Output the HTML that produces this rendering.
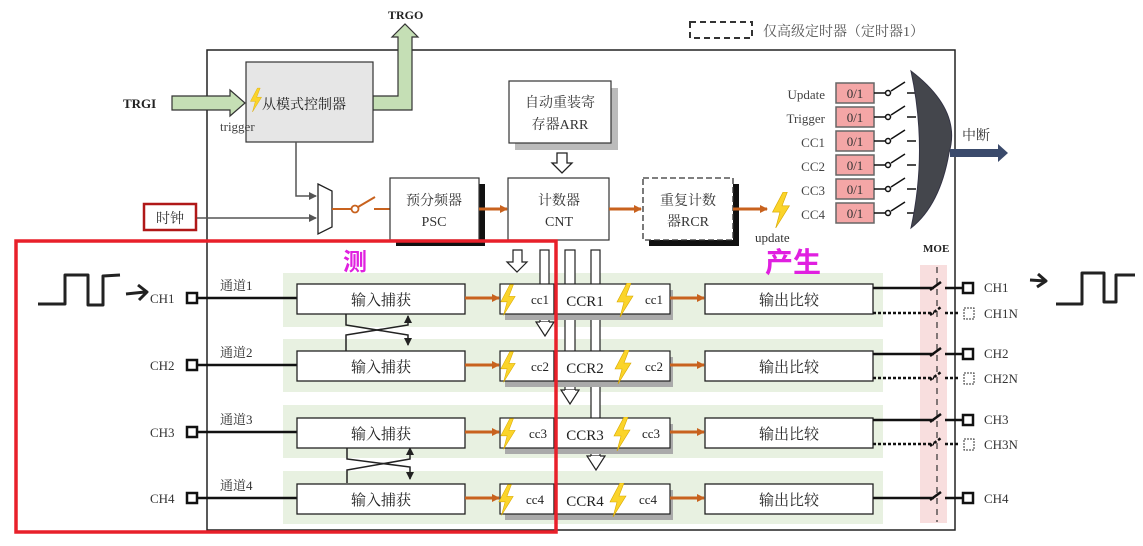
<!DOCTYPE html>
<html><head><meta charset="utf-8"><style>
html,body{margin:0;padding:0;background:#fff}
svg{display:block}
text{font-family:"Liberation Serif","Noto Serif CJK SC","Noto Sans CJK SC",serif}
</style></head><body>
<svg width="1143" height="546" viewBox="0 0 1143 546" xmlns="http://www.w3.org/2000/svg" fill="#222">
<defs>
<marker id="oa" markerWidth="8" markerHeight="8" refX="7" refY="4" orient="auto" markerUnits="userSpaceOnUse"><path d="M0,0 L8,4 L0,8z" fill="#c8621e"/></marker>
<marker id="ga" markerWidth="8" markerHeight="8" refX="7" refY="4" orient="auto" markerUnits="userSpaceOnUse"><path d="M0,0 L8,4 L0,8z" fill="#555"/></marker>
<marker id="ka" markerWidth="8" markerHeight="8" refX="7" refY="4" orient="auto" markerUnits="userSpaceOnUse"><path d="M0,0 L8,4 L0,8z" fill="#222"/></marker>
<symbol id="bolt" viewBox="0 0 20 34"><path d="M12,0 L2,19 L9,19 L5,34 L18,13 L11,13 L16,0z" fill="#fbd42a" stroke="#d8a800" stroke-width="0.6"/></symbol>
</defs>

<rect x="690" y="22" width="62" height="16" fill="none" stroke="#333" stroke-width="2" stroke-dasharray="6,4"/>
<text x="763" y="36" font-size="14" fill="#555">仅高级定时器（定时器1）</text>

<rect x="207" y="50" width="748" height="480" fill="#fff" stroke="#222" stroke-width="1.5"/>

<rect x="283" y="273" width="600" height="54" fill="#e8f1e1"/>
<rect x="283" y="339" width="600" height="53" fill="#e8f1e1"/>
<rect x="283" y="405" width="600" height="53" fill="#e8f1e1"/>
<rect x="283" y="471" width="600" height="53" fill="#e8f1e1"/>
<rect x="920" y="265" width="27" height="258" fill="#f8dede"/>
<line x1="937" y1="267" x2="937" y2="522" stroke="#333" stroke-width="1.2" stroke-dasharray="6,5"/>

<text x="388" y="19" font-size="12" font-weight="bold">TRGO</text>
<path d="M373,96 L398,96 L398,37 L392,37 L405,24 L418,37 L412,37 L412,110 L373,110z" fill="#c5dfb5" stroke="#333" stroke-width="1.2"/>
<text x="123" y="108" font-size="13" font-weight="bold">TRGI</text>
<path d="M172,96 L230,96 L230,90 L245,103 L230,116 L230,110 L172,110z" fill="#c5dfb5" stroke="#333" stroke-width="1.2"/>

<rect x="246" y="62" width="127" height="80" fill="#e6e6e6" stroke="#333" stroke-width="1.2"/>
<use href="#bolt" x="249" y="86" width="14" height="28"/>
<text x="262" y="109" font-size="14">从模式控制器</text>
<text x="220" y="131" font-size="13" fill="#444">trigger</text>

<rect x="515" y="88" width="103" height="62" fill="#bbb"/>
<rect x="509" y="81" width="102" height="62" fill="#fff" stroke="#333" stroke-width="1.2"/>
<text x="560" y="107" font-size="14" text-anchor="middle" fill="#333">自动重装寄</text>
<text x="560" y="129" font-size="14" text-anchor="middle" fill="#333">存器ARR</text>
<path d="M557,153 L567,153 L567,163 L572,163 L562,173 L552,163 L557,163z" fill="#fff" stroke="#222" stroke-width="1.3"/>

<path d="M296,142 L296,196 L316,196" fill="none" stroke="#555" stroke-width="1.5" marker-end="url(#ga)"/>
<rect x="144" y="204" width="52" height="26" fill="#fff" stroke="#b01818" stroke-width="2.5"/>
<text x="170" y="223" font-size="14" text-anchor="middle" fill="#333">时钟</text>
<line x1="197" y1="218" x2="316" y2="218" stroke="#555" stroke-width="1.5" marker-end="url(#ga)"/>
<path d="M318,184 L332,191 L332,227 L318,234z" fill="#fff" stroke="#222" stroke-width="1.3"/>
<line x1="332" y1="209" x2="352" y2="209" stroke="#c8621e" stroke-width="2"/>
<circle cx="355" cy="209" r="3.5" fill="#fff" stroke="#c8621e" stroke-width="1.8"/>
<line x1="358" y1="207" x2="375" y2="197" stroke="#c8621e" stroke-width="2"/>
<line x1="374" y1="209" x2="390" y2="209" stroke="#c8621e" stroke-width="2"/>

<rect x="396" y="184" width="89" height="62" fill="#111"/>
<rect x="390" y="178" width="89" height="62" fill="#fff" stroke="#333" stroke-width="1.2"/>
<text x="434" y="205" font-size="14" text-anchor="middle" fill="#333">预分频器</text>
<text x="434" y="226" font-size="14" text-anchor="middle" fill="#333">PSC</text>
<line x1="479" y1="209" x2="507" y2="209" stroke="#c8621e" stroke-width="3" marker-end="url(#oa)"/>

<rect x="540" y="250" width="9" height="72" fill="#fff" stroke="#222" stroke-width="1.2"/>
<path d="M540,322 L536,322 L545,336 L554,322 L549,322" fill="#fff" stroke="#222" stroke-width="1.2"/>
<rect x="565" y="250" width="10" height="140" fill="#fff" stroke="#222" stroke-width="1.2"/>
<path d="M565,390 L561,390 L570,404 L579,390 L575,390" fill="#fff" stroke="#222" stroke-width="1.2"/>
<rect x="591" y="250" width="9" height="206" fill="#fff" stroke="#222" stroke-width="1.2"/>
<path d="M591,456 L587,456 L596,470 L605,456 L600,456" fill="#fff" stroke="#222" stroke-width="1.2"/>
<path d="M513,250 L522,250 L522,262 L527,262 L517,272 L507,262 L513,262z" fill="#fff" stroke="#222" stroke-width="1.2"/>

<rect x="508" y="178" width="101" height="62" fill="#fff" stroke="#333" stroke-width="1.2"/>
<text x="559" y="205" font-size="14" text-anchor="middle" fill="#333">计数器</text>
<text x="559" y="226" font-size="14" text-anchor="middle" fill="#333">CNT</text>
<line x1="609" y1="209" x2="641" y2="209" stroke="#c8621e" stroke-width="3" marker-end="url(#oa)"/>

<rect x="649" y="184" width="90" height="62" fill="#111"/>
<rect x="643" y="178" width="90" height="62" fill="#fff" stroke="#333" stroke-width="1.3" stroke-dasharray="6,3"/>
<text x="688" y="205" font-size="14" text-anchor="middle" fill="#333">重复计数</text>
<text x="688" y="226" font-size="14" text-anchor="middle" fill="#333">器RCR</text>
<line x1="733" y1="209" x2="767" y2="209" stroke="#c8621e" stroke-width="3" marker-end="url(#oa)"/>
<use href="#bolt" x="770" y="192" width="22" height="36"/>
<text x="755" y="242" font-size="13" fill="#333">update</text>

<g font-size="13" fill="#444" text-anchor="end">
<text x="825" y="99">Update</text><text x="825" y="123">Trigger</text><text x="825" y="147">CC1</text>
<text x="825" y="171">CC2</text><text x="825" y="195">CC3</text><text x="825" y="219">CC4</text>
</g>
<g>
<rect x="836" y="83" width="38" height="20" fill="#f4a6a6" stroke="#666" stroke-width="1.5"/>
<rect x="836" y="107" width="38" height="20" fill="#f4a6a6" stroke="#666" stroke-width="1.5"/>
<rect x="836" y="131" width="38" height="20" fill="#f4a6a6" stroke="#666" stroke-width="1.5"/>
<rect x="836" y="155" width="38" height="20" fill="#f4a6a6" stroke="#666" stroke-width="1.5"/>
<rect x="836" y="179" width="38" height="20" fill="#f4a6a6" stroke="#666" stroke-width="1.5"/>
<rect x="836" y="203" width="38" height="20" fill="#f4a6a6" stroke="#666" stroke-width="1.5"/>
</g>
<g font-size="13" fill="#333" text-anchor="middle">
<text x="855" y="98">0/1</text><text x="855" y="122">0/1</text><text x="855" y="146">0/1</text>
<text x="855" y="170">0/1</text><text x="855" y="194">0/1</text><text x="855" y="218">0/1</text>
</g>
<g stroke="#111" stroke-width="1.5" fill="#fff">
<path d="M874,93 H886 M891,91 L905,82 M907,93 H916" fill="none"/><circle cx="888" cy="93" r="2.5"/>
<path d="M874,117 H886 M891,115 L905,106 M907,117 H916" fill="none"/><circle cx="888" cy="117" r="2.5"/>
<path d="M874,141 H886 M891,139 L905,130 M907,141 H916" fill="none"/><circle cx="888" cy="141" r="2.5"/>
<path d="M874,165 H886 M891,163 L905,154 M907,165 H916" fill="none"/><circle cx="888" cy="165" r="2.5"/>
<path d="M874,189 H886 M891,187 L905,178 M907,189 H916" fill="none"/><circle cx="888" cy="189" r="2.5"/>
<path d="M874,213 H886 M891,211 L905,202 M907,213 H916" fill="none"/><circle cx="888" cy="213" r="2.5"/>
</g>
<path d="M911,71 Q962,110 949,153 Q940,205 911,228 Q928,150 911,71z" fill="#44464c" stroke="#334" stroke-width="1"/>
<path d="M950,149 L998,149 L998,144 L1008,153 L998,162 L998,157 L950,157z" fill="#3a4a6b"/>
<text x="962" y="140" font-size="14" fill="#333">中断</text>
<text x="923" y="252" font-size="11" font-weight="bold">MOE</text>

<g font-size="13" fill="#333">
<text x="150" y="303">CH1</text><text x="150" y="370">CH2</text><text x="150" y="437">CH3</text><text x="150" y="503">CH4</text>
<text x="220" y="290">通道1</text><text x="220" y="357">通道2</text><text x="220" y="424">通道3</text><text x="220" y="490">通道4</text>
</g>
<g stroke="#111" stroke-width="2.5" fill="#fff">
<rect x="187" y="293" width="10" height="10"/><rect x="187" y="360" width="10" height="10"/>
<rect x="187" y="427" width="10" height="10"/><rect x="187" y="493" width="10" height="10"/>
<line x1="197" y1="298" x2="297" y2="298"/><line x1="197" y1="365" x2="297" y2="365"/>
<line x1="197" y1="432" x2="297" y2="432"/><line x1="197" y1="498" x2="297" y2="498"/>
</g>

<g stroke="#222" stroke-width="1.5" fill="none">
<path d="M346,314 L346,325 L408,335 L408,345" marker-end="url(#ka)"/>
<path d="M346,351 L346,335 L408,325 L408,316" marker-end="url(#ka)"/>
<path d="M347,447 L347,459 L410,467 L410,479" marker-end="url(#ka)"/>
<path d="M347,483 L347,470 L410,459 L410,448" marker-end="url(#ka)"/>
</g>

<g font-size="15" fill="#222" text-anchor="middle">
<rect x="297" y="284" width="168" height="30" fill="#fff" stroke="#222" stroke-width="1.3"/><text x="381" y="305">输入捕获</text>
<line x1="465" y1="298" x2="499" y2="298" stroke="#c8621e" stroke-width="3" marker-end="url(#oa)"/>
<rect x="505" y="290" width="168" height="30" fill="#aaa"/>
<rect x="500" y="284" width="54" height="30" fill="#fff" stroke="#222" stroke-width="1.2"/>
<rect x="554" y="284" width="116" height="30" fill="#fff" stroke="#222" stroke-width="1.2"/>
<use href="#bolt" x="499" y="283" width="18" height="34"/><text x="540" y="304" font-size="13">cc1</text>
<text x="585" y="306">CCR1</text><use href="#bolt" x="615" y="283" width="20" height="34"/><text x="654" y="304" font-size="13">cc1</text>
<line x1="670" y1="298" x2="704" y2="298" stroke="#c8621e" stroke-width="3" marker-end="url(#oa)"/>
<rect x="705" y="284" width="168" height="30" fill="#fff" stroke="#222" stroke-width="1.3"/><text x="789" y="305">输出比较</text>

<rect x="297" y="351" width="168" height="30" fill="#fff" stroke="#222" stroke-width="1.3"/><text x="381" y="372">输入捕获</text>
<line x1="465" y1="365" x2="499" y2="365" stroke="#c8621e" stroke-width="3" marker-end="url(#oa)"/>
<rect x="505" y="357" width="168" height="30" fill="#aaa"/>
<rect x="500" y="351" width="54" height="30" fill="#fff" stroke="#222" stroke-width="1.2"/>
<rect x="554" y="351" width="116" height="30" fill="#fff" stroke="#222" stroke-width="1.2"/>
<use href="#bolt" x="499" y="350" width="18" height="34"/><text x="540" y="371" font-size="13">cc2</text>
<text x="585" y="373">CCR2</text><use href="#bolt" x="613" y="350" width="20" height="34"/><text x="654" y="371" font-size="13">cc2</text>
<line x1="670" y1="365" x2="704" y2="365" stroke="#c8621e" stroke-width="3" marker-end="url(#oa)"/>
<rect x="705" y="351" width="168" height="30" fill="#fff" stroke="#222" stroke-width="1.3"/><text x="789" y="372">输出比较</text>

<rect x="297" y="418" width="168" height="30" fill="#fff" stroke="#222" stroke-width="1.3"/><text x="381" y="439">输入捕获</text>
<line x1="465" y1="432" x2="499" y2="432" stroke="#c8621e" stroke-width="3" marker-end="url(#oa)"/>
<rect x="505" y="424" width="168" height="30" fill="#aaa"/>
<rect x="500" y="418" width="54" height="30" fill="#fff" stroke="#222" stroke-width="1.2"/>
<rect x="554" y="418" width="116" height="30" fill="#fff" stroke="#222" stroke-width="1.2"/>
<use href="#bolt" x="499" y="417" width="18" height="34"/><text x="538" y="438" font-size="13">cc3</text>
<text x="585" y="440">CCR3</text><use href="#bolt" x="612" y="417" width="20" height="34"/><text x="651" y="438" font-size="13">cc3</text>
<line x1="670" y1="432" x2="704" y2="432" stroke="#c8621e" stroke-width="3" marker-end="url(#oa)"/>
<rect x="705" y="418" width="168" height="30" fill="#fff" stroke="#222" stroke-width="1.3"/><text x="789" y="439">输出比较</text>

<rect x="297" y="484" width="168" height="30" fill="#fff" stroke="#222" stroke-width="1.3"/><text x="381" y="505">输入捕获</text>
<line x1="465" y1="498" x2="499" y2="498" stroke="#c8621e" stroke-width="3" marker-end="url(#oa)"/>
<rect x="505" y="490" width="168" height="30" fill="#aaa"/>
<rect x="500" y="484" width="54" height="30" fill="#fff" stroke="#222" stroke-width="1.2"/>
<rect x="554" y="484" width="116" height="30" fill="#fff" stroke="#222" stroke-width="1.2"/>
<use href="#bolt" x="497" y="483" width="18" height="34"/><text x="535" y="504" font-size="13">cc4</text>
<text x="585" y="506">CCR4</text><use href="#bolt" x="608" y="483" width="20" height="34"/><text x="648" y="504" font-size="13">cc4</text>
<line x1="670" y1="498" x2="704" y2="498" stroke="#c8621e" stroke-width="3" marker-end="url(#oa)"/>
<rect x="705" y="484" width="168" height="30" fill="#fff" stroke="#222" stroke-width="1.3"/><text x="789" y="505">输出比较</text>
</g>

<g stroke="#111" stroke-width="2.5" fill="none">
<path d="M873,288 L934,288 M930,290 L941,282 M945,288 L962,288"/>
<path d="M873,313 L934,313 M930,315 L941,307 M945,313 L960,313" stroke-dasharray="3,2"/>
<path d="M873,354 L934,354 M930,356 L941,348 M945,354 L962,354"/>
<path d="M873,378 L934,378 M930,380 L941,372 M945,378 L960,378" stroke-dasharray="3,2"/>
<path d="M873,420 L934,420 M930,422 L941,414 M945,420 L962,420"/>
<path d="M873,444 L934,444 M930,446 L941,438 M945,444 L960,444" stroke-dasharray="3,2"/>
<path d="M873,498 L934,498 M930,500 L941,492 M945,498 L962,498"/>
</g>
<g stroke="#111" stroke-width="2.5" fill="#fff">
<rect x="963" y="283" width="10" height="10"/><rect x="963" y="349" width="10" height="10"/>
<rect x="963" y="415" width="10" height="10"/><rect x="963" y="493" width="10" height="10"/>
</g>
<g stroke="#333" stroke-width="1" fill="#fff" stroke-dasharray="2,1">
<rect x="964" y="308" width="10" height="11"/><rect x="964" y="373" width="10" height="11"/><rect x="964" y="439" width="10" height="11"/>
</g>
<g font-size="13" fill="#333">
<text x="984" y="292">CH1</text><text x="984" y="318">CH1N</text>
<text x="984" y="358">CH2</text><text x="984" y="383">CH2N</text>
<text x="984" y="424">CH3</text><text x="984" y="449">CH3N</text>
<text x="984" y="503">CH4</text>
</g>

<rect x="16" y="241" width="540" height="291" fill="none" stroke="#e8202a" stroke-width="3.5"/>
<text x="343" y="270" font-size="24" font-weight="bold" fill="#e020e0" style="font-family:'Noto Sans CJK SC',sans-serif">测</text>
<text x="765" y="272" font-size="28" font-weight="bold" fill="#e020e0" style="font-family:'Noto Sans CJK SC',sans-serif">产生</text>
<g stroke="#222" stroke-width="3" fill="none" stroke-linejoin="round">
<path d="M38,304 L65,304 L65,275 L88,275 L88,305 L103,305 L103,276 L120,275"/>
<path d="M126,294 L145,292 M138,285 L147,292 L139,300"/>
<path d="M1030,280 L1045,281 M1038,274 L1046,281 L1037,287"/>
<path d="M1056,304 L1082,304 L1082,273 L1104,273 L1104,302 L1116,302 L1116,275 L1135,275"/>
</g>
</svg>
</body></html>
